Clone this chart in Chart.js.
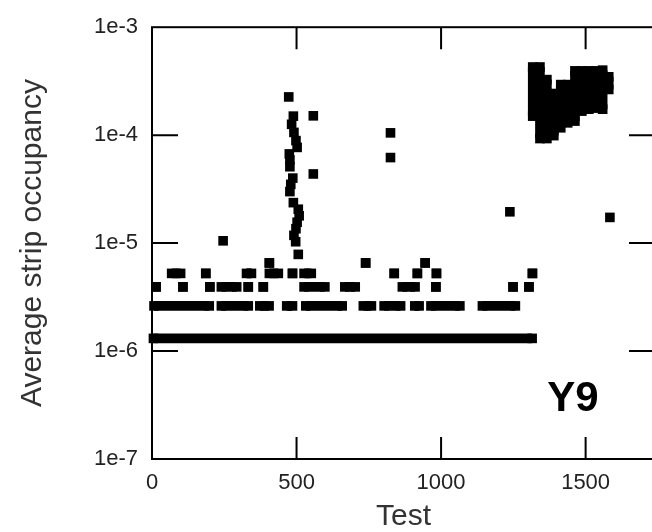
<!DOCTYPE html>
<html>
<head>
<meta charset="utf-8">
<script src="https://cdn.jsdelivr.net/npm/chart.js@4.4.1/dist/chart.umd.min.js"></script>
<style>
  html, body { margin: 0; padding: 0; background: #fff; overflow: hidden; }
  #wrap { width: 662px; height: 532px; }
</style>
</head>
<body>
<div id="wrap"><canvas id="chart"></canvas></div>
<script>
// one hit per strip ~ 1.31e-6, so the low occupancies come in steps
// horizontal runs of squares (test from..to, occupancy)
const bandStart = [5, 7, 240, 373, 466, 532, 731, 803, 909, 965, 1143,
  14, 107, 200, 240, 333, 385, 526, 667, 866, 982, 1249, 1304,
  68, 186, 327, 406, 486, 526, 838, 918, 984, 1316,
  406, 739, 945];
const bandEnd = [1315, 198, 333, 405, 486, 658, 759, 860, 924, 1065, 1257,
  14, 107, 200, 293, 333, 385, 598, 703, 910, 982, 1249, 1304,
  99, 186, 344, 437, 486, 551, 838, 918, 984, 1316,
  406, 739, 945];
const bandOcc = [1.31e-6, 2.62e-6, 2.62e-6, 2.62e-6, 2.62e-6, 2.62e-6, 2.62e-6, 2.62e-6, 2.62e-6, 2.62e-6, 2.62e-6,
  3.93e-6, 3.93e-6, 3.93e-6, 3.93e-6, 3.93e-6, 3.93e-6, 3.93e-6, 3.93e-6, 3.93e-6, 3.93e-6, 3.93e-6, 3.93e-6,
  5.24e-6, 5.24e-6, 5.24e-6, 5.24e-6, 5.24e-6, 5.24e-6, 5.24e-6, 5.24e-6, 5.24e-6, 5.24e-6,
  6.55e-6, 6.55e-6, 6.55e-6];

// single tests
const pointTest = [473, 558, 825, 825, 558, 1238, 1584, 246, 506,
  489, 483, 491, 498, 502, 475, 477, 477, 487, 480, 477, 489, 506, 509, 502, 498, 491, 497];
const pointOcc = [2.26e-4, 1.51e-4, 1.05e-4, 6.2e-5, 4.37e-5, 1.95e-5, 1.73e-5, 1.05e-5, 7.86e-6,
  1.50e-4, 1.26e-4, 1.06e-4, 8.9e-5, 7.7e-5, 6.7e-5, 5.9e-5, 5.1e-5, 4.0e-5, 3.5e-5, 3.0e-5,
  2.37e-5, 2.06e-5, 1.79e-5, 1.56e-5, 1.36e-5, 1.18e-5, 1.03e-5];

// the dense block after test ~1315: spread per test
const blockTest = [1317, 1342, 1366, 1390, 1414, 1438, 1463, 1487, 1511, 1535, 1559, 1580];
const blockLow = [1.50e-4, 9.3e-5, 9.3e-5, 9.9e-5, 1.17e-4, 1.30e-4, 1.35e-4, 1.67e-4, 1.74e-4, 1.78e-4, 1.74e-4, 2.65e-4];
const blockHigh = [4.28e-4, 4.28e-4, 3.27e-4, 2.43e-4, 2.94e-4, 2.94e-4, 3.94e-4, 3.94e-4, 3.94e-4, 3.94e-4, 4.0e-4, 3.47e-4];

const xTicks = [0, 500, 1000, 1500];
const yTicks = [1e-7, 1e-6, 1e-5, 1e-4, 1e-3];
const panelLabel = 'Y9';

const family = '"Liberation Sans", Arial, sans-serif';
const sqR = 6.8; // rect point -> ~9.6px square
const sqW = Math.SQRT2 * sqR;

const bandData = [];
bandStart.forEach((s, i) => {
  bandData.push({ x: s, y: bandOcc[i] }, { x: bandEnd[i], y: bandOcc[i] }, { x: bandEnd[i], y: null });
});
const blockData = [];
blockTest.forEach((t, i) => {
  blockData.push({ x: t, y: blockLow[i] }, { x: t, y: blockHigh[i] }, { x: t, y: null });
});
const pointData = pointTest.map((t, i) => ({ x: t, y: pointOcc[i] }));

const markStyle = {
  showLine: true,
  borderColor: '#000',
  backgroundColor: '#000',
  borderWidth: sqW,
  borderCapStyle: 'butt',
  pointStyle: 'rect',
  pointRadius: sqR,
  pointBorderWidth: 0,
  pointBackgroundColor: '#000',
  spanGaps: false,
  clip: false
};

// box round the plot with inward ticks, plus the panel tag
const frame = {
  id: 'frame',
  beforeDatasetsDraw(chart) {
    const { ctx, chartArea: a, scales: { x, y } } = chart;
    ctx.save();
    ctx.strokeStyle = '#000';
    ctx.lineWidth = 2;
    ctx.strokeRect(a.left, a.top, a.right - a.left, a.bottom - a.top);
    ctx.beginPath();
    x.ticks.forEach(t => {
      const px = x.getPixelForValue(t.value);
      if (px <= a.left + 1 || px >= a.right - 1) return;
      ctx.moveTo(px, a.top); ctx.lineTo(px, a.top + 22);
      ctx.moveTo(px, a.bottom); ctx.lineTo(px, a.bottom - 22);
    });
    y.ticks.forEach(t => {
      const py = y.getPixelForValue(t.value);
      if (py <= a.top + 1 || py >= a.bottom - 1) return;
      ctx.moveTo(a.left, py); ctx.lineTo(a.left + 26, py);
      ctx.moveTo(a.right, py); ctx.lineTo(a.right - 26, py);
    });
    ctx.stroke();
    ctx.font = 'bold 42px ' + family;
    ctx.fillStyle = '#000';
    ctx.textAlign = 'center';
    ctx.textBaseline = 'alphabetic';
    ctx.fillText(panelLabel, x.getPixelForValue(1456), y.getPixelForValue(2.8e-7));
    ctx.restore();
  }
};

new Chart(document.getElementById('chart'), {
  type: 'scatter',
  data: {
    datasets: [
      Object.assign({ label: 'bands', data: bandData }, markStyle),
      Object.assign({ label: 'block', data: blockData }, markStyle),
      Object.assign({ label: 'tests', data: pointData }, markStyle, { showLine: false })
    ]
  },
  options: {
    responsive: true,
    maintainAspectRatio: false,
    animation: false,
    layout: { padding: { top: 19, right: 7, left: 0, bottom: 0 } },
    plugins: { legend: { display: false }, tooltip: { enabled: false } },
    scales: {
      x: {
        type: 'linear', min: 0, max: 1740,
        afterFit: s => { s.height = 73; },
        afterBuildTicks: s => { s.ticks = xTicks.map(v => ({ value: v })); },
        grid: { display: false, drawTicks: false },
        border: { display: false },
        ticks: { color: '#222', font: { size: 22, family }, padding: 11, maxRotation: 0, autoSkip: false,
          callback: v => String(v) },
        title: { display: true, text: 'Test', color: '#333', font: { size: 30, family, lineHeight: 1 }, padding: 0 }
      },
      y: {
        type: 'logarithmic', min: 1e-7, max: 1e-3,
        afterFit: s => { s.width = 152; },
        afterBuildTicks: s => { s.ticks = yTicks.map(v => ({ value: v })); },
        grid: { display: false, drawTicks: false },
        border: { display: false },
        ticks: {
          color: '#222', font: { size: 22, family }, padding: 14, autoSkip: false,
          callback: v => '1e' + Math.round(Math.log10(v))
        },
        title: { display: true, text: 'Average strip occupancy', color: '#333',
          font: { size: 30, family, lineHeight: 1 }, padding: { top: 18, bottom: 0 } }
      }
    }
  },
  plugins: [frame]
});
</script>
</body>
</html>
